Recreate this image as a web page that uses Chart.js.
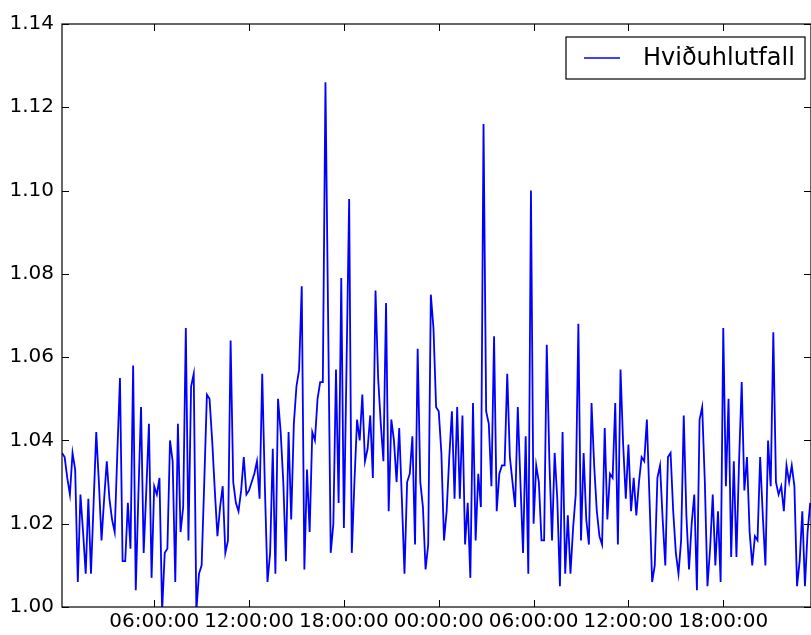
<!DOCTYPE html>
<html><head><meta charset="utf-8">
<script src="https://cdn.jsdelivr.net/npm/chart.js@4.4.1/dist/chart.umd.min.js"></script>
<style>html,body{margin:0;padding:0;background:#fff;overflow:hidden}#wrap{width:811px;height:635px;position:relative}canvas{display:block}</style>
</head><body><div id="wrap"><canvas id="c" width="811" height="635"></canvas></div>
<script>
// Series: one reading every 10 minutes, starting 00:10 on day 1
const seriesLabel = "Hviðuhlutfall";
const startMinutes = 10;
const stepMinutes = 10;
const values = [
1.037,1.036,1.031,1.027,1.037,1.033,1.006,1.027,1.018,1.008,
1.026,1.008,1.025,1.042,1.030,1.016,1.026,1.035,1.026,1.021,
1.018,1.037,1.055,1.011,1.011,1.025,1.014,1.058,1.004,1.027,
1.048,1.013,1.028,1.044,1.007,1.029,1.027,1.031,0.999,1.013,
1.014,1.040,1.035,1.006,1.044,1.018,1.024,1.067,1.016,1.053,
1.056,0.999,1.008,1.010,1.030,1.051,1.050,1.040,1.028,1.017,
1.024,1.029,1.013,1.016,1.064,1.030,1.025,1.023,1.028,1.036,
1.027,1.028,1.030,1.032,1.035,1.026,1.056,1.029,1.006,1.013,
1.038,1.008,1.050,1.042,1.030,1.011,1.042,1.021,1.044,1.053,
1.057,1.077,1.009,1.033,1.018,1.042,1.040,1.050,1.054,1.054,
1.126,1.070,1.013,1.020,1.057,1.025,1.079,1.019,1.058,1.098,
1.013,1.030,1.045,1.040,1.051,1.035,1.038,1.046,1.031,1.076,
1.055,1.044,1.035,1.073,1.023,1.045,1.040,1.030,1.043,1.026,
1.008,1.030,1.032,1.041,1.015,1.062,1.030,1.024,1.009,1.015,
1.075,1.067,1.048,1.047,1.037,1.016,1.023,1.036,1.047,1.026,
1.048,1.026,1.046,1.015,1.025,1.007,1.049,1.016,1.032,1.024,
1.116,1.047,1.044,1.029,1.065,1.023,1.032,1.034,1.034,1.056,
1.036,1.030,1.024,1.048,1.030,1.013,1.041,1.008,1.100,1.020,
1.034,1.030,1.016,1.016,1.063,1.035,1.016,1.037,1.026,1.005,
1.042,1.008,1.022,1.008,1.019,1.027,1.068,1.016,1.037,1.021,
1.015,1.049,1.034,1.023,1.017,1.015,1.043,1.021,1.032,1.031,
1.049,1.015,1.057,1.039,1.026,1.039,1.023,1.031,1.022,1.030,
1.036,1.035,1.045,1.026,1.006,1.010,1.031,1.034,1.021,1.010,
1.036,1.037,1.023,1.013,1.008,1.016,1.046,1.022,1.009,1.020,
1.027,1.004,1.045,1.048,1.030,1.005,1.014,1.027,1.010,1.023,
1.006,1.067,1.029,1.050,1.012,1.035,1.012,1.035,1.054,1.028,
1.036,1.018,1.010,1.017,1.016,1.036,1.022,1.010,1.040,1.029,
1.066,1.030,1.027,1.029,1.023,1.034,1.030,1.034,1.029,1.005,
1.011,1.023,1.005,1.018,1.025
];
const yTickValues = [1.00,1.02,1.04,1.06,1.08,1.10,1.12,1.14];
const xTickHours = [6,12,18,24,30,36,42];
const xTickLabels = ["06:00:00","12:00:00","18:00:00","00:00:00","06:00:00","12:00:00","18:00:00"];
const xMinHours = 10/60;
const xMaxHours = 47.55;

const points = values.map((v,i)=>({x:(startMinutes+i*stepMinutes)/60, y:v}));

const framePlugin = {
  id:'frame',
  afterDatasetsDraw(chart){
    const {ctx, chartArea:a, scales:{x,y}} = chart;
    ctx.save();
    ctx.strokeStyle = '#000';
    ctx.lineWidth = 1.2;
    ctx.strokeRect(a.left, a.top, a.right-a.left, a.bottom-a.top);
    const tl = 7;
    ctx.lineWidth = 1;
    ctx.beginPath();
    yTickValues.forEach(v=>{
      const py = Math.round(y.getPixelForValue(v))+0.5;
      ctx.moveTo(a.left, py); ctx.lineTo(a.left+tl, py);
      ctx.moveTo(a.right, py); ctx.lineTo(a.right-tl, py);
    });
    xTickHours.forEach(h=>{
      const px = Math.round(x.getPixelForValue(h))+0.5;
      ctx.moveTo(px, a.bottom); ctx.lineTo(px, a.bottom-tl);
      ctx.moveTo(px, a.top); ctx.lineTo(px, a.top+tl);
    });
    ctx.stroke();
    // legend
    const bw = 239, bh = 42;
    const bx = a.right - 6 - bw, by = a.top + 13;
    ctx.fillStyle = '#fff';
    ctx.fillRect(bx, by, bw, bh);
    ctx.strokeStyle = '#000';
    ctx.lineWidth = 1.2;
    ctx.strokeRect(bx, by, bw, bh);
    const ly = by + bh/2;
    ctx.strokeStyle = '#0000ff';
    ctx.lineWidth = 1.6;
    ctx.beginPath(); ctx.moveTo(bx+18, ly); ctx.lineTo(bx+54, ly); ctx.stroke();
    ctx.fillStyle = '#000';
    ctx.font = '24px "DejaVu Sans"';
    ctx.textBaseline = 'middle';
    ctx.textAlign = 'left';
    ctx.fillText(chart.data.datasets[0].label, bx+77, ly+1);
    ctx.restore();
  }
};

new Chart(document.getElementById('c').getContext('2d'), {
  type:'line',
  data:{datasets:[{label:seriesLabel, data:points, borderColor:'#0000ff', backgroundColor:'#0000ff',
    borderWidth:1.8, pointRadius:0, tension:0, fill:false, clip:0}]},
  options:{
    responsive:false, animation:false, events:[],
    layout:{padding:{top:24,right:0,left:0,bottom:0}},
    plugins:{legend:{display:false}, tooltip:{enabled:false}},
    scales:{
      x:{type:'linear', min:xMinHours, max:xMaxHours,
        afterBuildTicks:(s)=>{s.ticks = xTickHours.map(v=>({value:v}));},
        afterFit:(s)=>{s.height = 28; s.paddingLeft = 0; s.paddingRight = 0;},
        grid:{display:false, drawTicks:false}, border:{display:false},
        ticks:{autoSkip:false, maxRotation:0, minRotation:0, padding:3, color:'#000',
          font:{family:'DejaVu Sans', size:20},
          callback:(v)=>{const k = xTickHours.indexOf(v); return k>=0 ? xTickLabels[k] : '';}}},
      y:{min:1.00, max:1.14,
        afterBuildTicks:(s)=>{s.ticks = yTickValues.map(v=>({value:v}));},
        afterFit:(s)=>{s.width = 62;},
        grid:{display:false, drawTicks:false}, border:{display:false},
        ticks:{padding:8, color:'#000', font:{family:'DejaVu Sans', size:20},
          callback:(v)=>Number(v).toFixed(2)}}
    }
  },
  plugins:[framePlugin]
});
</script></body></html>
